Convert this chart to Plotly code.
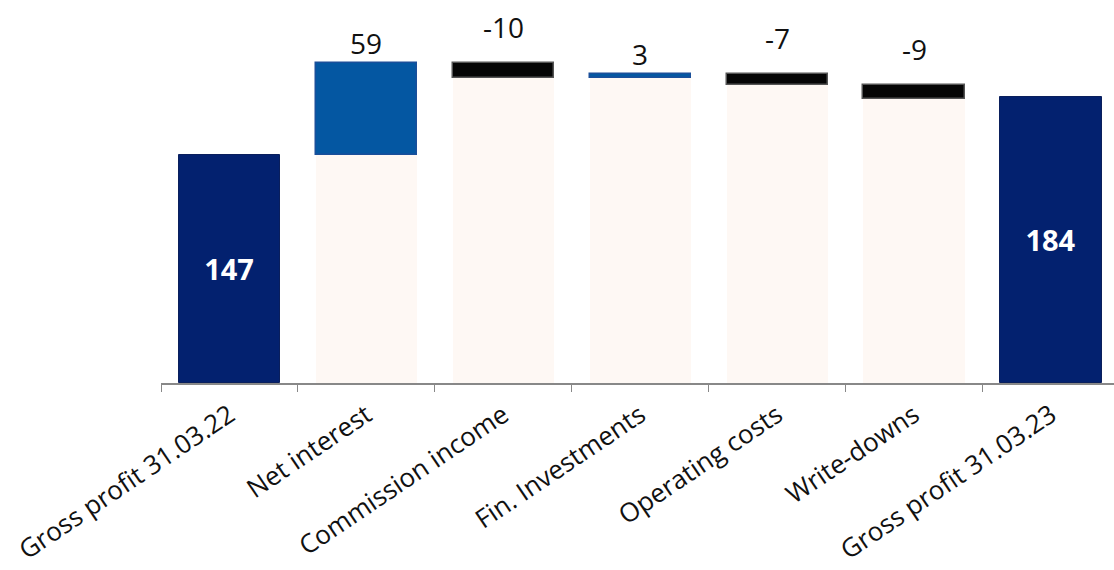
import plotly.graph_objects as go

categories = ["Gross profit 31.03.22", "Net interest", "Commission income",
              "Fin. Investments", "Operating costs", "Write-downs", "Gross profit 31.03.23"]
start_value = 147
deltas = [59, -10, 3, -7, -9]
end_value = 184

NAVY = "#03216F"
BLUE = "#0457A2"
BLACK = "#050505"
CREAM = "#FEF8F4"

# running cumulative for the step bars
cum = [start_value]
for d in deltas:
    cum.append(cum[-1] + d)

mid_cats = categories[1:-1]
base_h = [min(cum[i], cum[i + 1]) for i in range(len(deltas))]
delta_h = [abs(d) for d in deltas]
delta_col = [BLUE if d > 0 else BLACK for d in deltas]
delta_line = ["#1A4F9A" if d > 0 else "#555555" for d in deltas]

fig = go.Figure()
fig.add_trace(go.Bar(x=mid_cats, y=base_h, base=0, marker=dict(color=CREAM, line=dict(width=0)),
                     width=0.74, hoverinfo="skip", showlegend=False))
fig.add_trace(go.Bar(x=mid_cats, y=delta_h, base=base_h,
                     marker=dict(color=delta_col, line=dict(color=delta_line, width=1.5)),
                     width=0.74, showlegend=False))
fig.add_trace(go.Bar(x=[categories[0], categories[-1]], y=[start_value, end_value], base=0,
                     marker=dict(color=NAVY, line=dict(color="#0A1F5C", width=1)),
                     width=0.74, showlegend=False,
                     text=[str(start_value), str(end_value)], textposition="inside",
                     insidetextanchor="middle",
                     textfont=dict(family="Open Sans", size=29, color="white", weight="bold")))

for i, d in enumerate(deltas):
    top = max(cum[i], cum[i + 1])
    fig.add_annotation(x=mid_cats[i], y=top, text=str(d), showarrow=False,
                       yanchor="bottom", yshift=-1 if d > 0 else 15,
                       font=dict(family="Open Sans", size=28, color="#111111"))

fig.update_layout(
    width=1114, height=570,
    margin=dict(l=161, r=0, t=0, b=187),
    plot_bgcolor="white", paper_bgcolor="white",
    barmode="overlay", bargap=0,
    font=dict(family="Open Sans", color="#111111"),
)
fig.update_xaxes(type="category", categoryorder="array", categoryarray=categories,
                 range=[-0.5, 6.46], tickson="boundaries", ticks="outside", ticklen=7,
                 tickcolor="#888888", showline=True, linecolor="#888888", linewidth=1.5,
                 tickangle=-34, ticklabelstandoff=5,
                 tickfont=dict(family="Open Sans", size=26, color="#111111"),
                 showgrid=False)
fig.update_yaxes(range=[0, 246.5], visible=False, showgrid=False)

fig.write_html("out.html")
